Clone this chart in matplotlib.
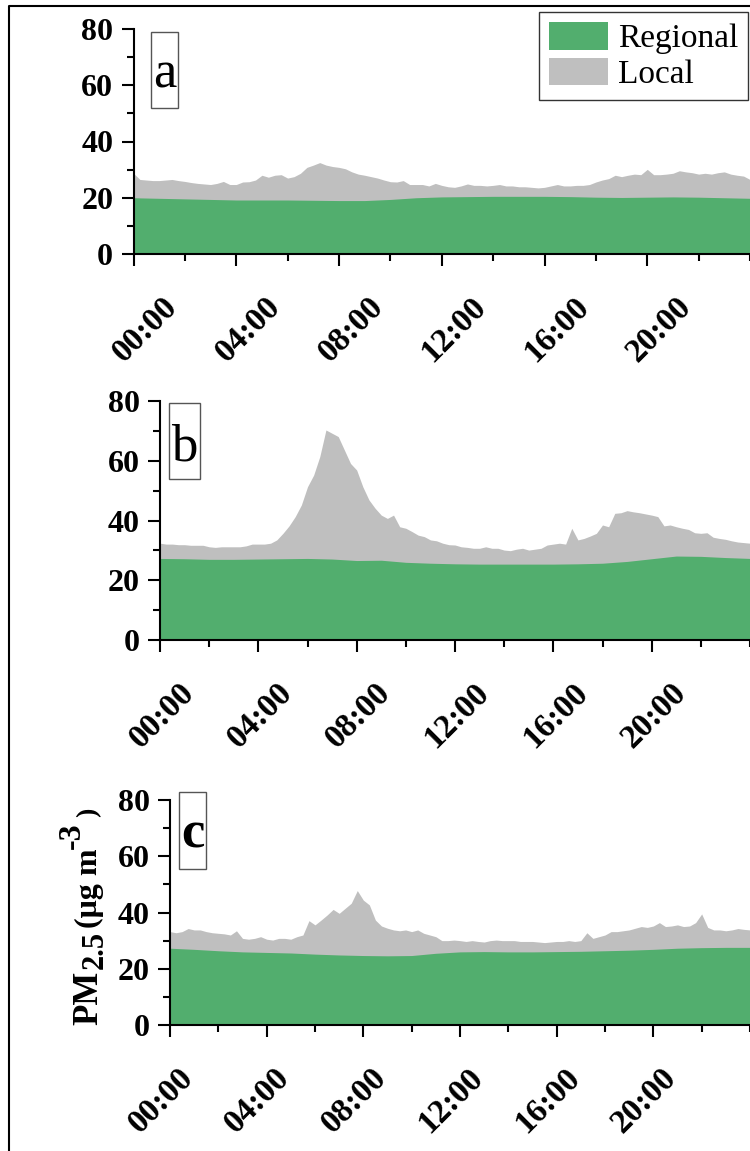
import numpy as np
import matplotlib
matplotlib.use("Agg")
import matplotlib.pyplot as plt
from matplotlib.lines import Line2D
from matplotlib.patches import Patch, Rectangle
from matplotlib.ticker import MultipleLocator
from matplotlib.transforms import ScaledTranslation

# -----------------------------------------------------------------------------
# data (PM2.5, ug m-3)
# total = regional + local, sampled every 15 min; regional sampled hourly
# -----------------------------------------------------------------------------
hours_15min = np.linspace(0, 24, 97)
hours_1h = np.arange(25)

total_a = [
    28.7, 26.5, 26.3, 26.1, 26.1, 26.3, 26.5, 26.1,
    25.8, 25.4, 25.1, 24.9, 24.7, 25.1, 25.8, 24.7,
    24.7, 25.6, 25.7, 26.3, 28.0, 27.3, 28.0, 28.2,
    27.0, 27.5, 28.7, 30.8, 31.6, 32.5, 31.6, 31.1,
    30.8, 30.3, 29.2, 28.4, 28.0, 27.5, 27.0, 26.3,
    25.7, 25.6, 26.1, 24.7, 24.7, 24.7, 24.2, 25.1,
    24.4, 23.9, 23.7, 24.2, 24.9, 24.4, 24.4, 24.2,
    24.4, 24.7, 24.2, 24.2, 23.9, 23.9, 23.7, 23.5,
    23.7, 24.2, 24.7, 24.2, 24.2, 24.4, 24.4, 24.7,
    25.6, 26.3, 26.8, 28.0, 27.5, 28.0, 28.4, 28.2,
    30.1, 28.2, 28.2, 28.4, 28.7, 29.6, 29.2, 28.9,
    28.4, 28.7, 28.4, 28.9, 29.2, 28.4, 28.0, 27.7,
    26.5,
]
regional_a = [20.0, 19.8, 19.6, 19.4, 19.2, 19.2, 19.2, 19.1, 19.0, 19.0,
              19.4, 20.0, 20.3, 20.4, 20.5, 20.5, 20.5, 20.4, 20.2, 20.1,
              20.2, 20.3, 20.2, 20.0, 19.8]

total_b = [
    32.4, 32.1, 32.1, 31.9, 31.9, 31.7, 31.7, 31.7,
    31.2, 31.0, 31.2, 31.2, 31.2, 31.2, 31.5, 32.1,
    32.1, 32.1, 32.4, 33.5, 35.7, 38.2, 41.3, 45.2,
    51.3, 55.2, 61.4, 70.3, 69.2, 68.1, 63.6, 59.1,
    56.9, 51.3, 46.9, 44.1, 41.8, 40.7, 41.8, 37.9,
    37.4, 36.3, 35.1, 34.6, 33.5, 33.2, 32.4, 31.9,
    31.8, 31.2, 31.0, 30.7, 30.7, 31.2, 30.7, 30.7,
    30.1, 29.9, 30.4, 30.7, 30.1, 30.4, 30.7, 31.8,
    32.1, 32.4, 32.1, 37.4, 33.5, 34.0, 34.8, 35.7,
    38.5, 37.9, 42.4, 42.6, 43.3, 42.9, 42.6, 42.2,
    41.8, 41.3, 38.2, 38.5, 37.9, 37.4, 37.0, 35.9,
    35.7, 35.9, 34.4, 34.0, 33.7, 33.2, 32.8, 32.6,
    32.4,
]
regional_b = [27.3, 27.2, 27.0, 27.0, 27.1, 27.2, 27.3, 27.1, 26.6, 26.7,
              26.0, 25.7, 25.5, 25.4, 25.4, 25.4, 25.4, 25.5, 25.7, 26.3,
              27.2, 28.1, 28.0, 27.6, 27.3]

total_c = [
    33.2, 32.8, 33.2, 34.3, 33.8, 33.8, 33.2, 32.8,
    32.6, 32.4, 32.0, 33.5, 30.8, 30.5, 30.8, 31.4,
    30.5, 30.2, 30.8, 30.8, 30.5, 31.4, 32.0, 37.1,
    35.6, 37.3, 39.1, 41.1, 39.7, 41.5, 43.3, 47.8,
    44.4, 42.7, 37.3, 35.2, 34.4, 33.8, 33.5, 33.8,
    33.2, 33.8, 32.6, 32.0, 31.4, 30.0, 30.0, 30.2,
    30.0, 29.7, 30.0, 29.7, 29.5, 30.0, 30.2, 30.0,
    30.0, 30.0, 29.7, 29.7, 29.7, 29.5, 29.3, 29.5,
    29.7, 29.7, 30.0, 29.7, 30.0, 32.8, 30.8, 31.4,
    32.0, 33.2, 33.2, 33.5, 33.8, 34.4, 35.0, 34.7,
    35.2, 36.4, 35.0, 35.2, 35.6, 35.0, 35.2, 36.4,
    39.5, 34.7, 33.8, 33.8, 33.5, 33.8, 34.3, 34.0,
    33.8,
]
regional_c = [27.3, 26.9, 26.4, 26.0, 25.8, 25.6, 25.2, 24.9, 24.7, 24.6,
              24.7, 25.5, 26.0, 26.1, 26.0, 26.0, 26.1, 26.2, 26.4, 26.6,
              26.9, 27.3, 27.5, 27.6, 27.6]

xtick_hours = [0, 4, 8, 12, 16, 20]
xtick_labels = ['00:00', '04:00', '08:00', '12:00', '16:00', '20:00']
panel_letters = ['a', 'b', 'c']

GREEN = '#52ae6e'
GREY = '#bfbfbf'

plt.rcParams['font.family'] = ['Liberation Serif', 'DejaVu Serif']
plt.rcParams['font.weight'] = 'bold'

W, H = 750, 1151
fig = plt.figure(figsize=(W / 100, H / 100), dpi=100)

# axes boxes in pixels: left, top, bottom (right edge = figure edge)
boxes = [(133.5, 29, 254), (160, 401, 640), (170, 800, 1025)]
# horizontal shift of the rotated time labels, pixels
label_shift = [12, 2, -9]
# letter boxes in axes fractions: x0, x1, y0, y1, text x, baseline y
letter_boxes = [
    (0.0284, 0.0722, 0.649, 0.987, 0.0503, 0.742),
    (0.0153, 0.0678, 0.674, 0.993, 0.0415, 0.753),
    (0.0155, 0.0620, 0.693, 1.037, 0.0388, 0.787),
]

series = [(total_a, regional_a), (total_b, regional_b), (total_c, regional_c)]

for i, (left, top, bottom) in enumerate(boxes):
    ax = fig.add_axes([left / W, 1 - bottom / H, 1 - left / W, (bottom - top) / H])
    total, regional = series[i]
    ax.fill_between(hours_15min, 0, total, color=GREY, lw=0, zorder=1)
    ax.fill_between(hours_1h, 0, regional, color=GREEN, lw=0, zorder=1.5)

    ax.set_xlim(0, 24)
    ax.set_ylim(0, 80)
    ax.yaxis.set_major_locator(MultipleLocator(20))
    ax.yaxis.set_minor_locator(MultipleLocator(10))
    ax.set_xticks(xtick_hours)
    ax.set_xticklabels(xtick_labels, rotation=45, ha='center', va='top')
    ax.xaxis.set_minor_locator(MultipleLocator(2))

    for s in ['top', 'right']:
        ax.spines[s].set_visible(False)
    for s in ['left', 'bottom']:
        ax.spines[s].set_linewidth(1.5)

    ax.tick_params(which='major', direction='out', length=8.6, width=1.5)
    ax.tick_params(which='minor', direction='out', length=5, width=1.5)
    ax.tick_params(axis='y', labelsize=23, pad=6)
    ax.tick_params(axis='x', labelsize=24, pad=18)

    offset = ScaledTranslation(label_shift[i] / 100, 0, fig.dpi_scale_trans)
    for lab in ax.get_xticklabels():
        lab.set_transform(lab.get_transform() + offset)

    x0, x1, y0, y1, tx, ty = letter_boxes[i]
    ax.add_patch(Rectangle((x0, y0), x1 - x0, y1 - y0, transform=ax.transAxes,
                           fc='white', ec='#555555', lw=1, clip_on=False, zorder=3))
    ax.text(tx, ty, panel_letters[i], transform=ax.transAxes, ha='center',
            va='baseline', fontsize=38, zorder=4,
            fontweight='bold' if i == 2 else 'normal')

# y label of the lowest panel, built from pieces like the original
# (text, size, baseline x px, start y px)
ylabel_parts = [
    ('PM', 25, 97, 1025),
    ('2.5', 22, 103, 969),
    ('(μg m', 23, 97, 928),
    ('-3', 23, 80, 849),
    (')', 20, 95, 817),
]
for txt, size, bx, by in ylabel_parts:
    fig.text(bx / W, 1 - by / H, txt, rotation=90, rotation_mode='anchor',
             ha='left', va='baseline', fontsize=size, fontweight='bold')

# legend
handles = [Patch(fc=GREEN, ec='none'), Patch(fc=GREY, ec='none')]
leg = fig.legend(handles, ['Regional', 'Local'], loc='upper right',
                 bbox_to_anchor=(748 / W, 1 - 12 / H), bbox_transform=fig.transFigure,
                 frameon=True, fancybox=False, edgecolor='#333333', framealpha=1,
                 prop={'family': 'Liberation Serif', 'weight': 'normal', 'size': 24},
                 handlelength=1.75, handleheight=0.9, handletextpad=0.3,
                 borderpad=0.3, labelspacing=0.1, borderaxespad=0)
leg.get_frame().set_linewidth(1)

# outer frame (top and left edges visible)
fig.add_artist(Line2D([9 / W, 9 / W, 1.01], [-0.01, 1 - 6 / H, 1 - 6 / H],
                      transform=fig.transFigure, color='black', lw=1.5))

fig.savefig('out.png', dpi=100)
